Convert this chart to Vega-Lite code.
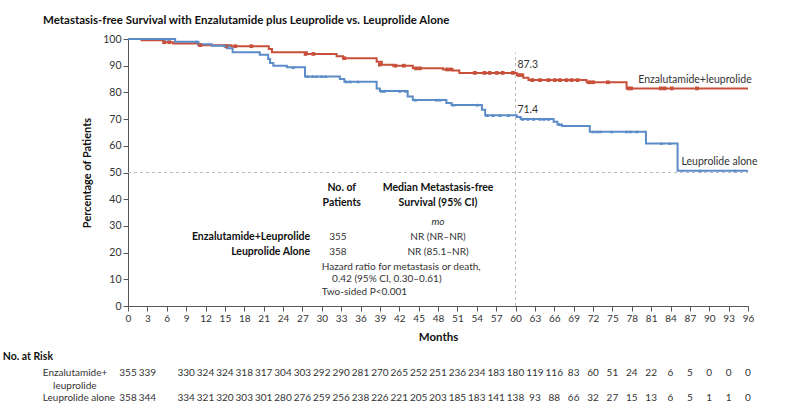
{
  "$schema": "https://vega.github.io/schema/vega-lite/v6.json",
  "width": 620,
  "height": 267,
  "autosize": {"type": "none"},
  "padding": {"left": 128, "top": 39, "right": 52, "bottom": 113},
  "background": "white",
  "config": {
    "font": "Lato",
    "view": {"stroke": null},
    "axis": {"grid": false, "domainColor": "#555", "tickColor": "#555", "labelColor": "#333", "titleColor": "#111", "labelFont": "Lato", "titleFont": "Lato"}
  },
  "title": {"text": "Metastasis-free Survival with Enzalutamide plus Leuprolide vs. Leuprolide Alone", "anchor": "start", "frame": "group", "dx": -85, "offset": 8, "fontSize": 11.5, "fontWeight": "bold", "font": "Lato", "color": "#111"},
  "datasets": {
    "curves": [
      {"group": "Enzalutamide+leuprolide", "month": 0, "surv": 100},
      {"group": "Enzalutamide+leuprolide", "month": 2.1, "surv": 99.5},
      {"group": "Enzalutamide+leuprolide", "month": 5.5, "surv": 98.8},
      {"group": "Enzalutamide+leuprolide", "month": 7, "surv": 98.3},
      {"group": "Enzalutamide+leuprolide", "month": 10.9, "surv": 97.7},
      {"group": "Enzalutamide+leuprolide", "month": 16, "surv": 97.3},
      {"group": "Enzalutamide+leuprolide", "month": 21.8, "surv": 96.3},
      {"group": "Enzalutamide+leuprolide", "month": 22.3, "surv": 95.0},
      {"group": "Enzalutamide+leuprolide", "month": 27.7, "surv": 94.4},
      {"group": "Enzalutamide+leuprolide", "month": 32.3, "surv": 93.5},
      {"group": "Enzalutamide+leuprolide", "month": 33.3, "surv": 92.8},
      {"group": "Enzalutamide+leuprolide", "month": 38.5, "surv": 91.5},
      {"group": "Enzalutamide+leuprolide", "month": 39.3, "surv": 90.4},
      {"group": "Enzalutamide+leuprolide", "month": 41, "surv": 90.0},
      {"group": "Enzalutamide+leuprolide", "month": 44.1, "surv": 89.0},
      {"group": "Enzalutamide+leuprolide", "month": 48.8, "surv": 88.6},
      {"group": "Enzalutamide+leuprolide", "month": 50.3, "surv": 88.2},
      {"group": "Enzalutamide+leuprolide", "month": 51.3, "surv": 87.3},
      {"group": "Enzalutamide+leuprolide", "month": 60.2, "surv": 86.5},
      {"group": "Enzalutamide+leuprolide", "month": 61.2, "surv": 85.5},
      {"group": "Enzalutamide+leuprolide", "month": 62, "surv": 84.6},
      {"group": "Enzalutamide+leuprolide", "month": 71, "surv": 83.8},
      {"group": "Enzalutamide+leuprolide", "month": 77.2, "surv": 81.5},
      {"group": "Enzalutamide+leuprolide", "month": 96, "surv": 81.5},
      {"group": "Leuprolide alone", "month": 0, "surv": 100},
      {"group": "Leuprolide alone", "month": 7.3, "surv": 99.0},
      {"group": "Leuprolide alone", "month": 10.9, "surv": 98.0},
      {"group": "Leuprolide alone", "month": 13, "surv": 97.5},
      {"group": "Leuprolide alone", "month": 15.3, "surv": 96.5},
      {"group": "Leuprolide alone", "month": 16.2, "surv": 95.0},
      {"group": "Leuprolide alone", "month": 20.4, "surv": 94.1},
      {"group": "Leuprolide alone", "month": 21.7, "surv": 92.5},
      {"group": "Leuprolide alone", "month": 22, "surv": 91.0},
      {"group": "Leuprolide alone", "month": 22.5, "surv": 90.0},
      {"group": "Leuprolide alone", "month": 24.6, "surv": 89.4},
      {"group": "Leuprolide alone", "month": 27.4, "surv": 86.0},
      {"group": "Leuprolide alone", "month": 32.8, "surv": 85.0},
      {"group": "Leuprolide alone", "month": 33.5, "surv": 84.0},
      {"group": "Leuprolide alone", "month": 38.5, "surv": 81.5},
      {"group": "Leuprolide alone", "month": 39, "surv": 80.5},
      {"group": "Leuprolide alone", "month": 43.3, "surv": 78.5},
      {"group": "Leuprolide alone", "month": 44.1, "surv": 77.2},
      {"group": "Leuprolide alone", "month": 49.3, "surv": 76.0},
      {"group": "Leuprolide alone", "month": 50.1, "surv": 75.3},
      {"group": "Leuprolide alone", "month": 54.8, "surv": 73.5},
      {"group": "Leuprolide alone", "month": 55.3, "surv": 71.4},
      {"group": "Leuprolide alone", "month": 60.2, "surv": 70.8},
      {"group": "Leuprolide alone", "month": 60.8, "surv": 70.0},
      {"group": "Leuprolide alone", "month": 65.9, "surv": 69.0},
      {"group": "Leuprolide alone", "month": 66.5, "surv": 68.0},
      {"group": "Leuprolide alone", "month": 67.2, "surv": 67.4},
      {"group": "Leuprolide alone", "month": 71.5, "surv": 65.3},
      {"group": "Leuprolide alone", "month": 80.2, "surv": 60.9},
      {"group": "Leuprolide alone", "month": 85.1, "surv": 50.7},
      {"group": "Leuprolide alone", "month": 96, "surv": 50.7}
    ],
    "censorE": [
      {"month": 5.6, "surv": 98.8}, {"month": 6.4, "surv": 98.8},
      {"month": 11.2, "surv": 97.7}, {"month": 15.2, "surv": 97.3}, {"month": 16.6, "surv": 97.3},
      {"month": 19.1, "surv": 97.3}, {"month": 27.5, "surv": 94.4}, {"month": 28.7, "surv": 94.4},
      {"month": 33.5, "surv": 92.8}, {"month": 39.0, "surv": 90.4}, {"month": 41.4, "surv": 90.0},
      {"month": 42.7, "surv": 90.0}, {"month": 44.6, "surv": 89.0}, {"month": 45.2, "surv": 89.0},
      {"month": 49.4, "surv": 88.6}, {"month": 50.0, "surv": 88.6},
      {"month": 53.7, "surv": 87.3}, {"month": 55.2, "surv": 87.3}, {"month": 56.0, "surv": 87.3},
      {"month": 57.1, "surv": 87.3}, {"month": 58.0, "surv": 87.3}, {"month": 59.6, "surv": 87.3},
      {"month": 60.5, "surv": 86.5}, {"month": 61.0, "surv": 86.5},
      {"month": 62.6, "surv": 84.6}, {"month": 63.8, "surv": 84.6}, {"month": 65.1, "surv": 84.6},
      {"month": 66.1, "surv": 84.6}, {"month": 66.9, "surv": 84.6}, {"month": 67.9, "surv": 84.6},
      {"month": 68.7, "surv": 84.6}, {"month": 69.6, "surv": 84.6},
      {"month": 71.4, "surv": 83.8}, {"month": 72.0, "surv": 83.8}, {"month": 74.3, "surv": 83.8},
      {"month": 77.5, "surv": 81.5}, {"month": 77.9, "surv": 81.5},
      {"month": 82.5, "surv": 81.5}, {"month": 83.1, "surv": 81.5}, {"month": 84.2, "surv": 81.5},
      {"month": 88.1, "surv": 81.5}
    ],
    "censorL": [
      {"month": 5.8, "surv": 100}, {"month": 6.3, "surv": 100}, {"month": 10.6, "surv": 99.0},
      {"month": 15.0, "surv": 97.5}, {"month": 15.6, "surv": 97.5}, {"month": 25.6, "surv": 89.4},
      {"month": 27.8, "surv": 86.0}, {"month": 28.6, "surv": 86.0}, {"month": 29.2, "surv": 86.0},
      {"month": 30.0, "surv": 86.0}, {"month": 30.6, "surv": 86.0},
      {"month": 33.8, "surv": 84.0}, {"month": 34.4, "surv": 84.0}, {"month": 35.6, "surv": 84.0},
      {"month": 39.3, "surv": 80.5}, {"month": 39.7, "surv": 80.5}, {"month": 42.1, "surv": 80.5},
      {"month": 43.0, "surv": 80.5}, {"month": 44.5, "surv": 77.2}, {"month": 47.8, "surv": 77.2},
      {"month": 48.3, "surv": 77.2}, {"month": 50.4, "surv": 75.3}, {"month": 54.1, "surv": 75.3},
      {"month": 55.6, "surv": 71.4}, {"month": 56.5, "surv": 71.4}, {"month": 57.6, "surv": 71.4},
      {"month": 58.9, "surv": 71.4}, {"month": 61.1, "surv": 70.0}, {"month": 61.9, "surv": 70.0},
      {"month": 62.8, "surv": 70.0}, {"month": 63.8, "surv": 70.0}, {"month": 64.4, "surv": 70.0},
      {"month": 65.1, "surv": 70.0}, {"month": 66.8, "surv": 68.0},
      {"month": 72.0, "surv": 65.3}, {"month": 72.6, "surv": 65.3}, {"month": 73.1, "surv": 65.3},
      {"month": 74.9, "surv": 65.3}, {"month": 77.2, "surv": 65.3}, {"month": 77.8, "surv": 65.3},
      {"month": 78.8, "surv": 65.3}, {"month": 82.6, "surv": 60.9}, {"month": 83.9, "surv": 60.9},
      {"month": 88.6, "surv": 50.7}, {"month": 94.0, "surv": 50.7}
    ],
    "risk": [
      {"group": "E", "month": 0, "n": 355}, {"group": "E", "month": 3, "n": 339},
      {"group": "E", "month": 9, "n": 330}, {"group": "E", "month": 12, "n": 324},
      {"group": "E", "month": 15, "n": 324}, {"group": "E", "month": 18, "n": 318},
      {"group": "E", "month": 21, "n": 317}, {"group": "E", "month": 24, "n": 304},
      {"group": "E", "month": 27, "n": 303}, {"group": "E", "month": 30, "n": 292},
      {"group": "E", "month": 33, "n": 290}, {"group": "E", "month": 36, "n": 281},
      {"group": "E", "month": 39, "n": 270}, {"group": "E", "month": 42, "n": 265},
      {"group": "E", "month": 45, "n": 252}, {"group": "E", "month": 48, "n": 251},
      {"group": "E", "month": 51, "n": 236}, {"group": "E", "month": 54, "n": 234},
      {"group": "E", "month": 57, "n": 183}, {"group": "E", "month": 60, "n": 180},
      {"group": "E", "month": 63, "n": 119}, {"group": "E", "month": 66, "n": 116},
      {"group": "E", "month": 69, "n": 83}, {"group": "E", "month": 72, "n": 60},
      {"group": "E", "month": 75, "n": 51}, {"group": "E", "month": 78, "n": 24},
      {"group": "E", "month": 81, "n": 22}, {"group": "E", "month": 84, "n": 6},
      {"group": "E", "month": 87, "n": 5}, {"group": "E", "month": 90, "n": 0},
      {"group": "E", "month": 93, "n": 0}, {"group": "E", "month": 96, "n": 0},
      {"group": "L", "month": 0, "n": 358}, {"group": "L", "month": 3, "n": 344},
      {"group": "L", "month": 9, "n": 334}, {"group": "L", "month": 12, "n": 321},
      {"group": "L", "month": 15, "n": 320}, {"group": "L", "month": 18, "n": 303},
      {"group": "L", "month": 21, "n": 301}, {"group": "L", "month": 24, "n": 280},
      {"group": "L", "month": 27, "n": 276}, {"group": "L", "month": 30, "n": 259},
      {"group": "L", "month": 33, "n": 256}, {"group": "L", "month": 36, "n": 238},
      {"group": "L", "month": 39, "n": 226}, {"group": "L", "month": 42, "n": 221},
      {"group": "L", "month": 45, "n": 205}, {"group": "L", "month": 48, "n": 203},
      {"group": "L", "month": 51, "n": 185}, {"group": "L", "month": 54, "n": 183},
      {"group": "L", "month": 57, "n": 141}, {"group": "L", "month": 60, "n": 138},
      {"group": "L", "month": 63, "n": 93}, {"group": "L", "month": 66, "n": 88},
      {"group": "L", "month": 69, "n": 66}, {"group": "L", "month": 72, "n": 32},
      {"group": "L", "month": 75, "n": 27}, {"group": "L", "month": 78, "n": 15},
      {"group": "L", "month": 81, "n": 13}, {"group": "L", "month": 84, "n": 6},
      {"group": "L", "month": 87, "n": 5}, {"group": "L", "month": 90, "n": 1},
      {"group": "L", "month": 93, "n": 1}, {"group": "L", "month": 96, "n": 0}
    ]
  },
  "data": {"values": [{}]},
  "layer": [
    {
      "data": {"name": "curves"},
      "mark": {"type": "line", "interpolate": "step-after", "strokeWidth": 2},
      "encoding": {
        "x": {"field": "month", "type": "quantitative", "scale": {"domain": [0, 96], "nice": false, "zero": false},
          "axis": {"values": [0,3,6,9,12,15,18,21,24,27,30,33,36,39,42,45,48,51,54,57,60,63,66,69,72,75,78,81,84,87,90,93,96],
            "tickCount": 40,
            "title": "Months", "titleFontSize": 11.5, "titleFontWeight": "bold", "titlePadding": 8,
            "labelFontSize": 10, "tickSize": 5, "labelPadding": 2, "labelFlush": false, "labelOverlap": false}},
        "y": {"field": "surv", "type": "quantitative", "scale": {"domain": [0, 100], "nice": false, "zero": false},
          "axis": {"values": [0,10,20,30,40,50,60,70,80,90,100], "tickCount": 12, "title": "Percentage of Patients",
            "titleFontSize": 11, "titleFontWeight": "bold", "titlePadding": 10, "labelFontSize": 10.5, "tickSize": 5, "labelPadding": 2, "labelOverlap": false}},
        "color": {"field": "group", "type": "nominal", "legend": null,
          "scale": {"domain": ["Enzalutamide+leuprolide", "Leuprolide alone"], "range": ["#c8503a", "#5b8cc8"]}}
      }
    },
    {
      "mark": {"type": "rule", "strokeDash": [3, 3], "color": "#bbbbbb", "strokeWidth": 1},
      "encoding": {"x": {"datum": 0, "type": "quantitative"}, "x2": {"datum": 96}, "y": {"datum": 50, "type": "quantitative"}}
    },
    {
      "mark": {"type": "rule", "strokeDash": [3, 3], "color": "#bbbbbb", "strokeWidth": 1},
      "encoding": {"x": {"datum": 60, "type": "quantitative"}, "y": {"datum": 0, "type": "quantitative"}, "y2": {"datum": 95}}
    },
    {
      "data": {"name": "censorE"},
      "mark": {"type": "point", "shape": "square", "filled": true, "size": 14, "color": "#c8503a", "opacity": 1},
      "encoding": {"x": {"field": "month", "type": "quantitative"}, "y": {"field": "surv", "type": "quantitative"}}
    },
    {
      "data": {"name": "censorL"},
      "mark": {"type": "point", "shape": "triangle-up", "filled": true, "size": 14, "color": "#5b8cc8", "opacity": 1},
      "encoding": {"x": {"field": "month", "type": "quantitative"}, "y": {"field": "surv", "type": "quantitative"}}
    },
    {
      "mark": {"type": "text", "align": "left", "baseline": "middle", "fontSize": 10.5, "color": "#333"},
      "encoding": {"x": {"datum": 79.0, "type": "quantitative"}, "y": {"datum": 84.6, "type": "quantitative"}, "text": {"value": "Enzalutamide+leuprolide"}}
    },
    {
      "mark": {"type": "text", "align": "left", "baseline": "middle", "fontSize": 10.5, "color": "#333"},
      "encoding": {"x": {"datum": 85.7, "type": "quantitative"}, "y": {"datum": 54.0, "type": "quantitative"}, "text": {"value": "Leuprolide alone"}}
    },
    {
      "mark": {"type": "text", "align": "left", "baseline": "middle", "fontSize": 10.5, "color": "#333"},
      "encoding": {"x": {"datum": 60.3, "type": "quantitative"}, "y": {"datum": 90.3, "type": "quantitative"}, "text": {"value": "87.3"}}
    },
    {
      "mark": {"type": "text", "align": "left", "baseline": "middle", "fontSize": 10.5, "color": "#333"},
      "encoding": {"x": {"datum": 60.3, "type": "quantitative"}, "y": {"datum": 73.4, "type": "quantitative"}, "text": {"value": "71.4"}}
    },
    {
      "mark": {"type": "text", "align": "center", "baseline": "middle", "fontSize": 10.5, "fontWeight": "bold", "color": "#111", "lineHeight": 15},
      "encoding": {"x": {"datum": 33.1, "type": "quantitative"}, "y": {"datum": 44.2, "type": "quantitative"}, "text": {"value": ["No. of", "Patients"]}}
    },
    {
      "mark": {"type": "text", "align": "center", "baseline": "middle", "fontSize": 10.5, "fontWeight": "bold", "color": "#111", "lineHeight": 15},
      "encoding": {"x": {"datum": 48.0, "type": "quantitative"}, "y": {"datum": 44.2, "type": "quantitative"}, "text": {"value": ["Median Metastasis-free", "Survival (95% CI)"]}}
    },
    {
      "mark": {"type": "text", "align": "center", "baseline": "middle", "fontSize": 10, "fontStyle": "italic", "color": "#333"},
      "encoding": {"x": {"datum": 48.0, "type": "quantitative"}, "y": {"datum": 31.5, "type": "quantitative"}, "text": {"value": "mo"}}
    },
    {
      "mark": {"type": "text", "align": "right", "baseline": "middle", "fontSize": 10.5, "fontWeight": "bold", "color": "#111", "lineHeight": 15},
      "encoding": {"x": {"datum": 28.2, "type": "quantitative"}, "y": {"datum": 25.8, "type": "quantitative"}, "text": {"value": ["Enzalutamide+Leuprolide", "Leuprolide Alone"]}}
    },
    {
      "mark": {"type": "text", "align": "center", "baseline": "middle", "fontSize": 10, "color": "#333", "lineHeight": 15},
      "encoding": {"x": {"datum": 32.5, "type": "quantitative"}, "y": {"datum": 25.8, "type": "quantitative"}, "text": {"value": ["355", "358"]}}
    },
    {
      "mark": {"type": "text", "align": "center", "baseline": "middle", "fontSize": 10, "color": "#333", "lineHeight": 15},
      "encoding": {"x": {"datum": 48.0, "type": "quantitative"}, "y": {"datum": 25.8, "type": "quantitative"}, "text": {"value": ["NR (NR–NR)", "NR (85.1–NR)"]}}
    },
    {
      "mark": {"type": "text", "align": "left", "baseline": "middle", "fontSize": 10, "color": "#333"},
      "encoding": {"x": {"datum": 30.0, "type": "quantitative"}, "y": {"datum": 14.6, "type": "quantitative"}, "text": {"value": "Hazard ratio for metastasis or death,"}}
    },
    {
      "mark": {"type": "text", "align": "left", "baseline": "middle", "fontSize": 10, "color": "#333"},
      "encoding": {"x": {"datum": 31.6, "type": "quantitative"}, "y": {"datum": 10.1, "type": "quantitative"}, "text": {"value": "0.42 (95% CI, 0.30–0.61)"}}
    },
    {
      "mark": {"type": "text", "align": "left", "baseline": "middle", "fontSize": 10, "color": "#333"},
      "encoding": {"x": {"datum": 30.0, "type": "quantitative"}, "y": {"datum": 5.2, "type": "quantitative"}, "text": {"value": "Two-sided P<0.001"}}
    },
    {
      "mark": {"type": "text", "align": "left", "baseline": "middle", "fontSize": 10.5, "fontWeight": "bold", "color": "#111"},
      "encoding": {"x": {"datum": -19.4, "type": "quantitative"}, "y": {"datum": -19.1, "type": "quantitative"}, "text": {"value": "No. at Risk"}}
    },
    {
      "mark": {"type": "text", "align": "left", "baseline": "middle", "fontSize": 10, "color": "#333"},
      "encoding": {"x": {"datum": -13.2, "type": "quantitative"}, "y": {"datum": -25.1, "type": "quantitative"}, "text": {"value": "Enzalutamide+"}}
    },
    {
      "mark": {"type": "text", "align": "left", "baseline": "middle", "fontSize": 10, "color": "#333"},
      "encoding": {"x": {"datum": -11.6, "type": "quantitative"}, "y": {"datum": -30.0, "type": "quantitative"}, "text": {"value": "leuprolide"}}
    },
    {
      "mark": {"type": "text", "align": "left", "baseline": "middle", "fontSize": 10, "color": "#333"},
      "encoding": {"x": {"datum": -13.2, "type": "quantitative"}, "y": {"datum": -34.5, "type": "quantitative"}, "text": {"value": "Leuprolide alone"}}
    },
    {
      "data": {"name": "risk"},
      "transform": [{"filter": "datum.group === 'E'"}],
      "mark": {"type": "text", "align": "center", "baseline": "middle", "fontSize": 10, "color": "#333"},
      "encoding": {"x": {"field": "month", "type": "quantitative"}, "y": {"datum": -25.1, "type": "quantitative"}, "text": {"field": "n", "type": "quantitative"}}
    },
    {
      "data": {"name": "risk"},
      "transform": [{"filter": "datum.group === 'L'"}],
      "mark": {"type": "text", "align": "center", "baseline": "middle", "fontSize": 10, "color": "#333"},
      "encoding": {"x": {"field": "month", "type": "quantitative"}, "y": {"datum": -34.5, "type": "quantitative"}, "text": {"field": "n", "type": "quantitative"}}
    }
  ]
}
